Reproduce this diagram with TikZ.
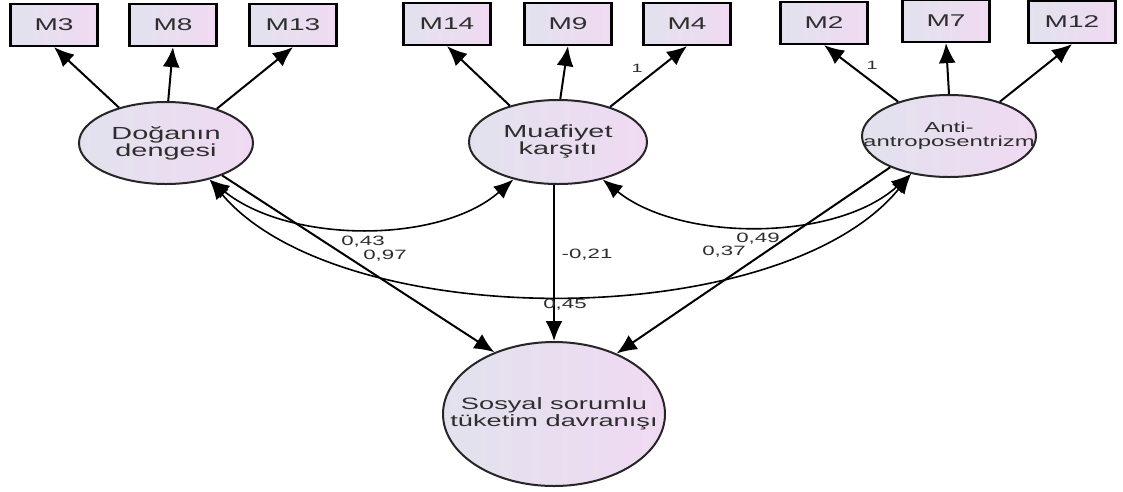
\documentclass[tikz,border=0pt]{standalone}
\usepackage{fontspec}
\setmainfont{Liberation Sans}
\usetikzlibrary{shapes.geometric,arrows.meta}
\definecolor{fillL}{HTML}{E2E2EE}
\definecolor{fillR}{HTML}{F0DAF2}
\definecolor{txt}{HTML}{2E2E2E}
\newcommand{\stx}[1]{\makebox[0pt]{\scalebox{1.65}[1]{#1}}}
\begin{document}
\begin{tikzpicture}[x=1pt,y=-1pt,
 obs/.style={draw=black, line width=2.2pt, rectangle, minimum width=87pt, minimum height=42pt, inner sep=0pt, left color=fillL, right color=fillR, text=txt, font=\fontsize{17}{17}\selectfont},
 lat/.style={draw=black!85, line width=2pt, ellipse, inner sep=0pt, left color=fillL, right color=fillR, text=txt, align=center},
 arr/.style={line width=2pt, -{Latex[length=20pt,width=17pt]}},
 cov/.style={line width=1.6pt, {Latex[length=20pt,width=16pt]}-{Latex[length=20pt,width=16pt]}},
 lbl/.style={text=txt, font=\fontsize{13.5}{13.5}\selectfont, inner sep=0pt}
]
\useasboundingbox[fill=white] (0,0) rectangle (1123,491);

% observed indicators
\node[obs] (M3)  at (54,25)   {\stx{M3}};
\node[obs] (M8)  at (173,25)  {\stx{M8}};
\node[obs] (M13) at (293,25)  {\stx{M13}};
\node[obs] (M14) at (447,24)  {\stx{M14}};
\node[obs] (M9)  at (568,24)  {\stx{M9}};
\node[obs] (M4)  at (687,24)  {\stx{M4}};
\node[obs] (M2)  at (824,23)  {\stx{M2}};
\node[obs] (M7)  at (946,21)  {\stx{M7}};
\node[obs] (M12) at (1072,22) {\stx{M12}};

% latent variables
\node[lat, minimum width=174pt, minimum height=82pt, font=\fontsize{17.5}{17}\selectfont] (dog) at (166,143) {\stx{Doğanın}\\\stx{dengesi}};
\node[lat, minimum width=178pt, minimum height=84pt, font=\fontsize{17.5}{17}\selectfont] (muf) at (558,142) {\stx{Muafiyet}\\\stx{karşıtı}};
\node[lat, minimum width=174pt, minimum height=82pt, font=\fontsize{14.5}{14}\selectfont] (anti) at (949,136) {\stx{Anti-}\\\stx{antroposentrizm}};
\node[lat, minimum width=222pt, minimum height=144pt, font=\fontsize{16.5}{17}\selectfont] (sst) at (554,414) {\stx{Sosyal sorumlu}\\\stx{tüketim davranışı}};

% measurement arrows
\draw[arr] (dog.143) -- (M3.south);
\draw[arr] (dog.87) -- (M8.south);
\draw[arr] (dog.34) -- (M13.south);
\draw[arr] (muf.143) -- (M14.south);
\draw[arr] (muf.87) -- (M9.south);
\draw[arr] (muf.34) -- (M4.south);
\draw[arr] (anti.146) -- (M2.south);
\draw[arr] (anti.90) -- (M7.south);
\draw[arr] (anti.34) -- (M12.south);

% covariances
\draw[cov] (dog.-40) .. controls (290,244) and (440,244) .. (muf.220);
\draw[cov] (muf.-40) .. controls (680,242) and (835,242) .. (anti.225);
\draw[cov] (dog.-40) .. controls (340,334) and (780,334) .. (anti.225);

% structural paths
\draw[arr] (dog.-30) -- (sst.134);
\draw[arr] (sst.north |- muf.south) -- (sst.north);
\draw[arr] (anti.208) -- (sst.44);

% labels
\node[lbl] (l43) at (363,242) {\stx{0,43}};
\node[lbl] (l97) at (385,256) {\stx{0,97}};
\node[lbl] (l21) at (587,255) {\stx{-0,21}};
\node[lbl] (l49) at (758,239) {\stx{0,49}};
\node[lbl] (l37) at (724,252) {\stx{0,37}};
\node[lbl] (l45) at (565,305) {\stx{0,45}};
\node[lbl, font=\fontsize{12}{12}\selectfont] (one1) at (637,68) {\stx{1}};
\node[lbl, font=\fontsize{12}{12}\selectfont] (one2) at (872,65) {\stx{1}};
\end{tikzpicture}
\end{document}
